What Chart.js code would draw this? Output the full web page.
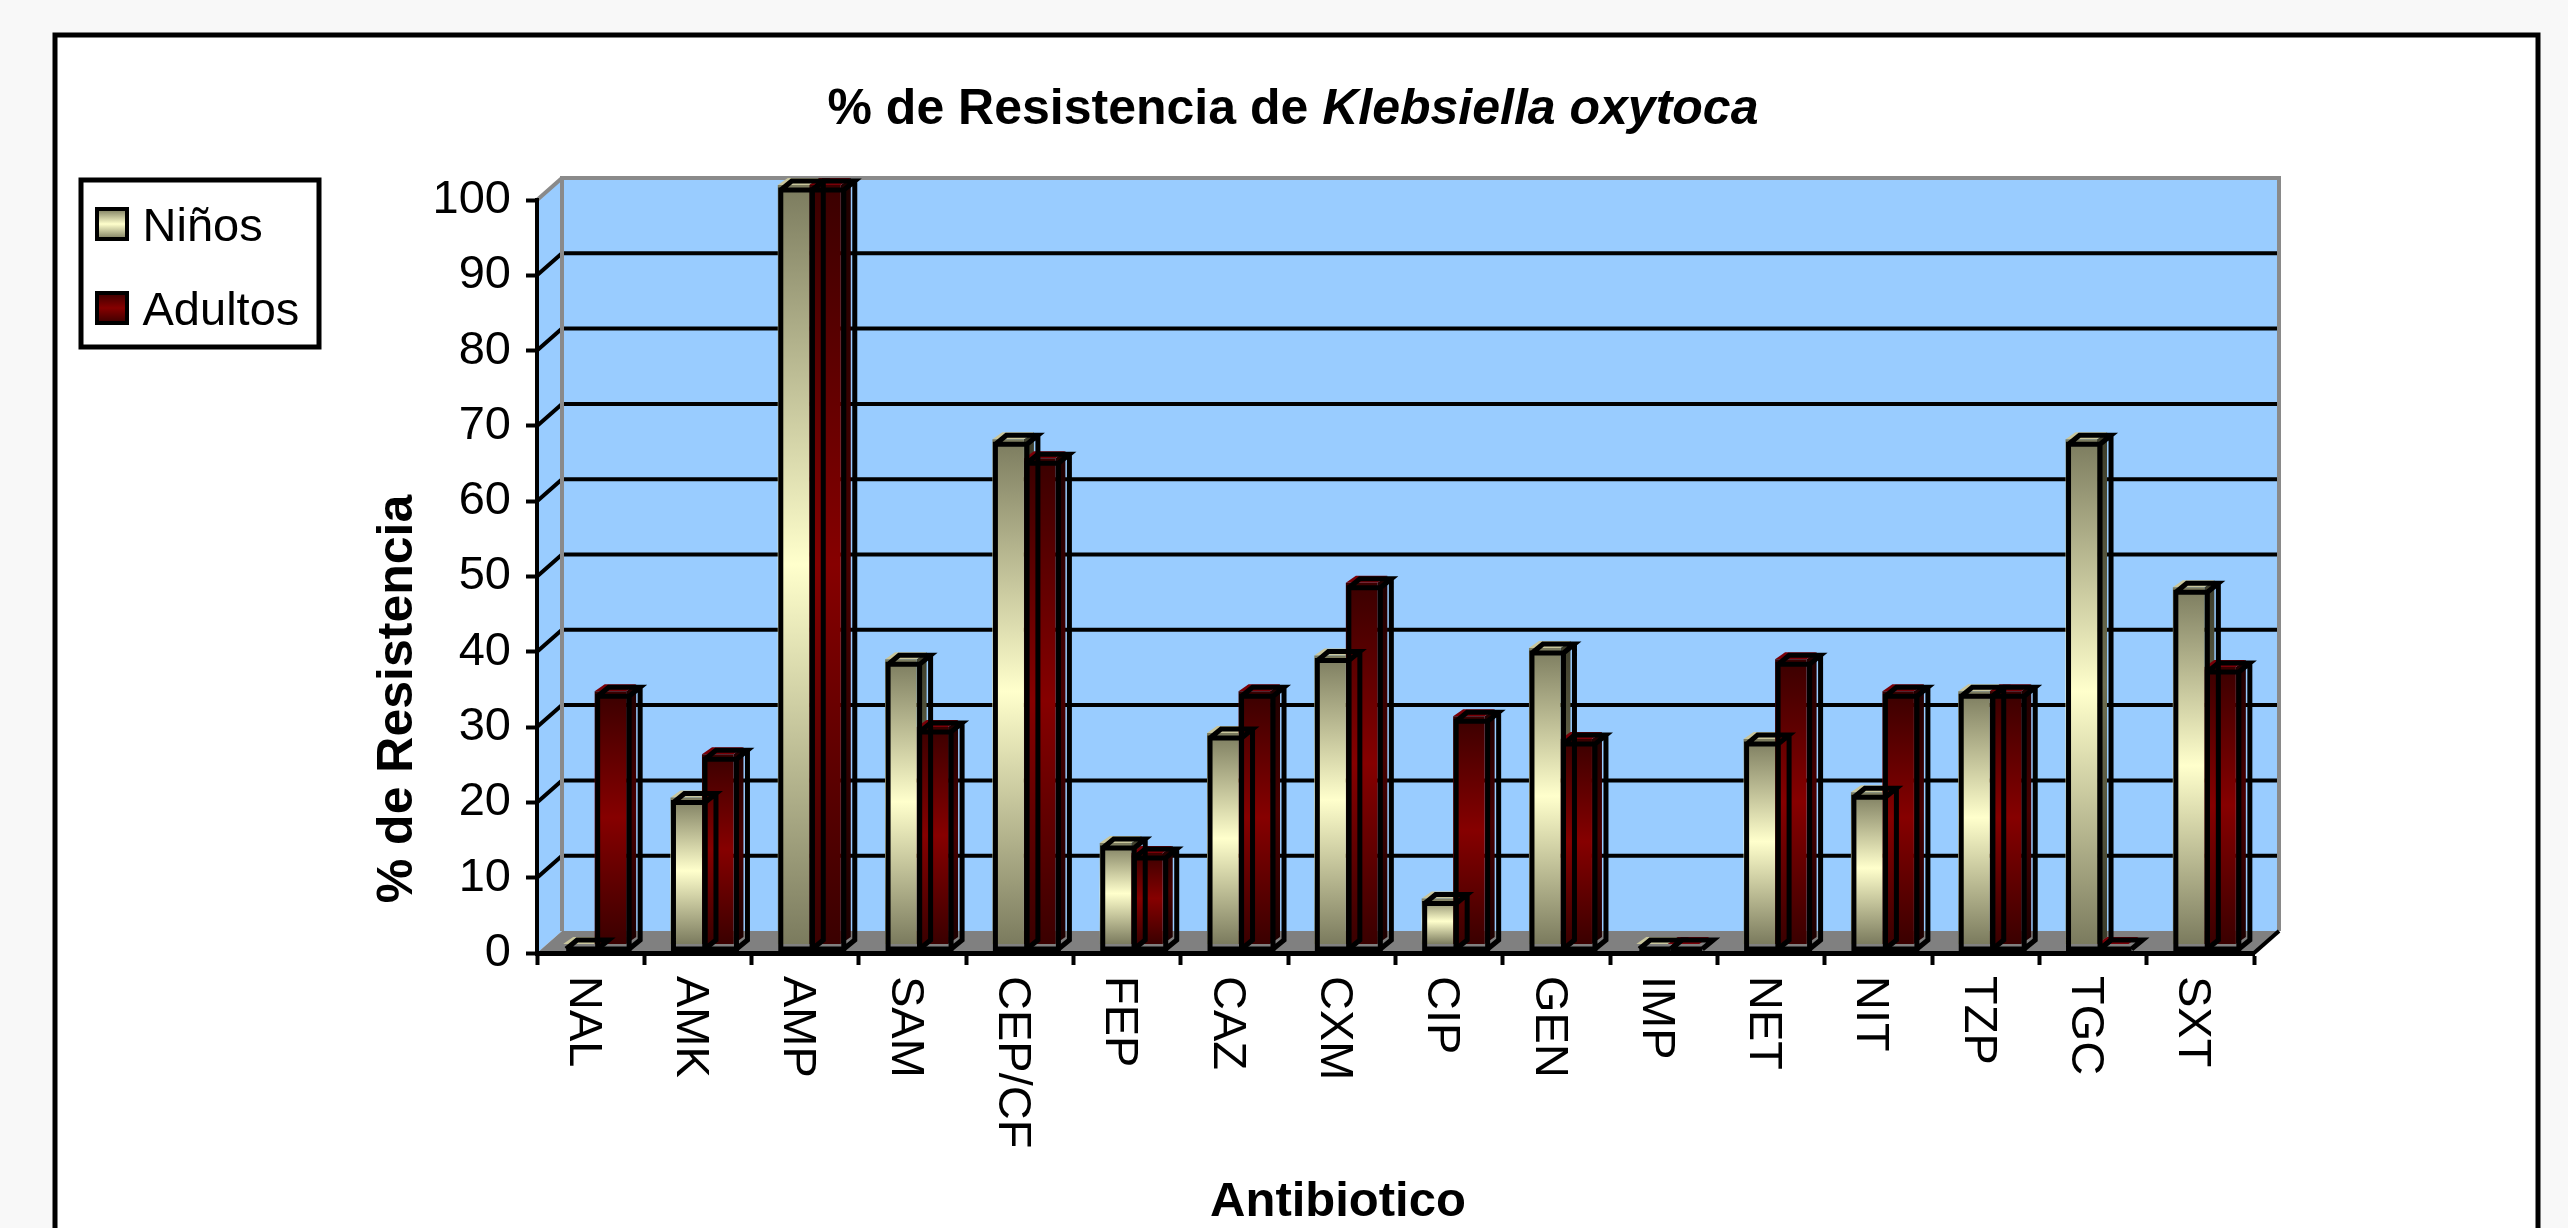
<!DOCTYPE html>
<html lang="es">
<head>
<meta charset="utf-8">
<title>% de Resistencia de Klebsiella oxytoca</title>
<style>
html,body{margin:0;padding:0;background:#f8f8f8;overflow:hidden}
canvas{display:block}
</style>
<script src="https://cdn.jsdelivr.net/npm/chart.js@4/dist/chart.umd.min.js"></script>
</head>
<body>
<canvas id="c" width="2568" height="1228"></canvas>
<script>
const categories = ['NAL','AMK','AMP','SAM','CEP/CF','FEP','CAZ','CXM','CIP','GEN','IMP','NET','NIT','TZP','TGC','SXT'];
const ninos   = [0,19.3,100,37.5,66.5,13.3,27.8,38,6,39,0,27,20,33.3,66.5,47];
const adultos = [33.3,25,100,28.6,64,12,33.3,47.6,30,27,0,37.5,33.3,33.3,0,36.5];
const seriesNames = ['Niños','Adultos'];
const titleParts = ['% de Resistencia de ','Klebsiella oxytoca'];
const yAxisTitle = '% de Resistencia';
const xAxisTitle = 'Antibiotico';

const FONT = '"Liberation Sans", Arial, sans-serif';
const PALETTE = [
  {edge:'#7b7b5e', mid:'#ffffcc', sideEdge:'#3c3c2a', sideMid:'#6f6f52', top:'#c9c69c'},
  {edge:'#3a0000', mid:'#860000', sideEdge:'#1e0000', sideMid:'#470000', top:'#7a0008'}
];
const WALL_DX = 25, WALL_DY = 22;
const BAR_DX = 10, BAR_DY = 7, LINE_DX = 11, LINE_DY = 9, LINE_OFF_X = 3, LINE_OFF_Y = 5, BAR_SHIFT = 4;

function vGrad(ctx, y0, y1, c0, c1){
  const g = ctx.createLinearGradient(0, y0, 0, y1);
  g.addColorStop(0, c0); g.addColorStop(0.5, c1); g.addColorStop(1, c0);
  return g;
}
function poly(ctx, pts){
  ctx.beginPath();
  pts.forEach((p,i)=> i ? ctx.lineTo(p[0],p[1]) : ctx.moveTo(p[0],p[1]));
  ctx.closePath();
}
function barFill(i){
  return c => {
    const p = PALETTE[i];
    if (c.type !== 'data') return p.mid;
    const s = c.chart.scales.yBar;
    return vGrad(c.chart.ctx, s.getPixelForValue(c.parsed.y), s.getPixelForValue(0), p.edge, p.mid);
  };
}

const scene = {
  id:'scene',
  afterLayout(chart){
    const x = chart.scales.x;
    x._getXAxisLabelAlignment = () => 'left';
    x._labelItems = null;
    const lg = chart.legend;
    const w = lg.width, h = lg.height;
    lg.left = 61; lg.top = 168; lg.right = 61 + w; lg.bottom = 168 + h;
  },
  afterDatasetUpdate(chart, args){
    args.meta.data.forEach(el => { el.x += BAR_SHIFT; });
  },
  beforeDraw(chart){
    const ctx = chart.ctx, a = chart.chartArea, y = chart.scales.y;
    const L = a.left, R = a.right, T = a.top, B = a.bottom;
    ctx.save();
    ctx.fillStyle = '#fff';
    ctx.fillRect(55,35,2483,1200);
    ctx.strokeStyle = '#000'; ctx.lineWidth = 5;
    ctx.strokeRect(55,35,2483,1300);
    ctx.strokeRect(81,180,238,167);
    ctx.fillStyle = '#99ccff';
    poly(ctx,[[L,T],[L+WALL_DX,T-WALL_DY],[L+WALL_DX,B-WALL_DY],[L,B]]); ctx.fill();
    ctx.fillRect(L+WALL_DX,T-WALL_DY,R-L,B-T);
    ctx.fillStyle = '#808080';
    poly(ctx,[[L,B],[L+WALL_DX,B-WALL_DY],[R+WALL_DX,B-WALL_DY],[R,B]]); ctx.fill();
    ctx.strokeStyle = '#000'; ctx.lineWidth = 4;
    y.ticks.forEach(t => {
      if (t.value === 0 || t.value === 100) return;
      const py = y.getPixelForValue(t.value);
      ctx.beginPath();
      ctx.moveTo(L,py); ctx.lineTo(L+WALL_DX,py-WALL_DY); ctx.lineTo(R+WALL_DX,py-WALL_DY);
      ctx.stroke();
    });
    ctx.strokeStyle = '#8a8a8a'; ctx.lineWidth = 4;
    ctx.beginPath();
    ctx.moveTo(L+WALL_DX,B-WALL_DY); ctx.lineTo(L+WALL_DX,T-WALL_DY); ctx.lineTo(R+WALL_DX,T-WALL_DY); ctx.lineTo(R+WALL_DX,B-WALL_DY);
    ctx.moveTo(L,T); ctx.lineTo(L+WALL_DX,T-WALL_DY);
    ctx.stroke();
    ctx.strokeStyle = '#000'; ctx.lineWidth = 4;
    ctx.beginPath(); ctx.moveTo(R,B); ctx.lineTo(R+WALL_DX,B-WALL_DY); ctx.stroke();
    ctx.restore();
  },
  beforeDatasetsDraw(chart){
    const ctx = chart.ctx;
    ctx.save();
    chart.data.datasets.forEach((d,i) => {
      const p = PALETTE[i];
      chart.getDatasetMeta(i).data.forEach(el => {
        const x0 = el.x - el.width/2, x1 = el.x + el.width/2, yt = el.y, yb = el.base;
        ctx.fillStyle = vGrad(ctx, yt-BAR_DY, yb-BAR_DY, p.sideEdge, p.sideMid);
        poly(ctx,[[x1,yt],[x1+BAR_DX,yt-BAR_DY],[x1+BAR_DX,yb-BAR_DY],[x1,yb]]); ctx.fill();
        ctx.fillStyle = p.top;
        poly(ctx,[[x0,yt],[x1,yt],[x1+BAR_DX,yt-BAR_DY],[x0+BAR_DX,yt-BAR_DY]]); ctx.fill();
      });
    });
    ctx.restore();
  },
  afterDatasetsDraw(chart){
    const ctx = chart.ctx;
    ctx.save();
    ctx.strokeStyle = '#000'; ctx.lineWidth = 5; ctx.lineJoin = 'miter';
    chart.data.datasets.forEach((d,i) => {
      chart.getDatasetMeta(i).data.forEach(el => {
        const x0 = el.x - el.width/2 + LINE_OFF_X, x1 = el.x + el.width/2 + LINE_OFF_X;
        const yt = el.y + LINE_OFF_Y, yb = el.base + LINE_OFF_Y;
        ctx.beginPath();
        ctx.rect(x0,yt,x1-x0,yb-yt);
        ctx.moveTo(x0,yt); ctx.lineTo(x0+LINE_DX,yt-LINE_DY); ctx.lineTo(x1+LINE_DX,yt-LINE_DY); ctx.lineTo(x1,yt);
        ctx.moveTo(x1+LINE_DX,yt-LINE_DY); ctx.lineTo(x1+LINE_DX,yb-LINE_DY); ctx.lineTo(x1,yb);
        ctx.stroke();
      });
    });
    ctx.restore();
    ctx.save();
    ctx.fillStyle = '#000';
    ctx.textBaseline = 'middle';
    const f1 = 'bold 50px '+FONT, f2 = 'italic bold 50px '+FONT;
    ctx.font = f1; const w1 = ctx.measureText(titleParts[0]).width;
    ctx.font = f2; const w2 = ctx.measureText(titleParts[1]).width;
    const tx = 1293 - (w1+w2)/2;
    ctx.textAlign = 'left';
    ctx.font = f1; ctx.fillText(titleParts[0], tx, 110);
    ctx.font = f2; ctx.fillText(titleParts[1], tx+w1, 110);
    ctx.textAlign = 'center';
    ctx.font = 'bold 49px '+FONT;
    ctx.fillText(xAxisTitle, 1338, 1202);
    ctx.translate(398,699);
    ctx.rotate(-Math.PI/2);
    ctx.font = 'bold 50px '+FONT;
    ctx.fillText(yAxisTitle, 0, 0);
    ctx.restore();
  },
  afterDraw(chart){
    const ctx = chart.ctx;
    ctx.save();
    ctx.strokeStyle = '#000'; ctx.lineWidth = 4;
    chart.data.datasets.forEach((d,i) => {
      const top = 209 + i*84;
      ctx.fillStyle = vGrad(ctx, top, top+30, PALETTE[i].edge, PALETTE[i].mid);
      ctx.fillRect(97,top,30,30);
      ctx.strokeRect(97,top,30,30);
    });
    ctx.restore();
  }
};

new Chart(document.getElementById('c'), {
  type:'bar',
  data:{
    labels:categories,
    datasets:[
      {label:seriesNames[0], data:ninos,   yAxisID:'yBar', backgroundColor:barFill(0), borderWidth:0, clip:false},
      {label:seriesNames[1], data:adultos, yAxisID:'yBar', backgroundColor:barFill(1), borderWidth:0, clip:false}
    ]
  },
  options:{
    responsive:false,
    animation:false,
    layout:{padding:{left:370,right:314,top:200,bottom:0}},
    datasets:{bar:{categoryPercentage:0.587,barPercentage:1}},
    plugins:{
      tooltip:{enabled:false},
      title:{display:false},
      legend:{
        display:true,
        position:'chartArea',
        align:'start',
        labels:{
          color:'#000',
          font:{family:FONT,size:47},
          boxWidth:21,
          boxHeight:21,
          padding:37,
          generateLabels(chart){
            return chart.data.datasets.map((d,i) => ({
              text:d.label,
              datasetIndex:i,
              fillStyle:PALETTE[i].mid,
              strokeStyle:'#000',
              lineWidth:0,
              fontColor:'#000',
              hidden:false
            }));
          }
        }
      }
    },
    scales:{
      x:{
        grid:{display:true,drawOnChartArea:false,drawTicks:true,tickLength:12,tickColor:'#000',tickWidth:4,offset:true},
        border:{display:true,color:'#000',width:5},
        ticks:{
          autoSkip:false,
          minRotation:-90,
          maxRotation:-90,
          color:'#000',
          font:{family:FONT,size:47},
          padding:11,
          labelOffset:-8
        },
        afterFit(s){ s.height = 275; s.paddingLeft = 0; s.paddingRight = 0; }
      },
      y:{
        min:0,
        max:100,
        grid:{display:true,drawOnChartArea:false,drawTicks:true,tickLength:11,tickColor:'#000',tickWidth:4},
        border:{display:true,color:'#000',width:4},
        ticks:{stepSize:10,color:'#000',font:{family:FONT,size:47},padding:15},
        afterFit(s){ s.width = 167; s.paddingTop = 0; s.paddingBottom = 0; }
      },
      yBar:{
        display:false,
        min:-1.186,
        max:98.02
      }
    }
  },
  plugins:[scene]
});
</script>
</body>
</html>
